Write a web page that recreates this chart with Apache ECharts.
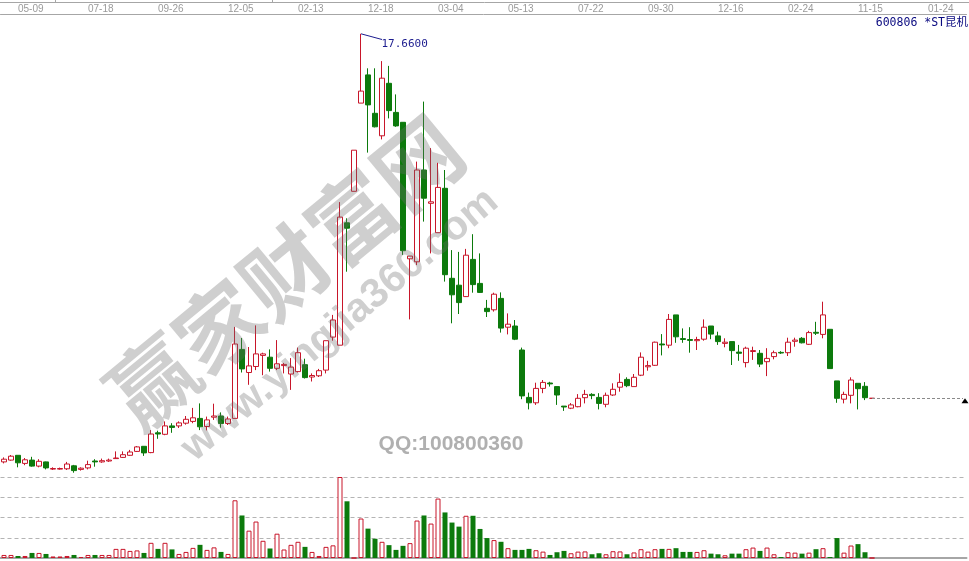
<!DOCTYPE html>
<html><head><meta charset="utf-8">
<script src="https://cdn.jsdelivr.net/npm/echarts@6/dist/echarts.min.js"></script>
<style>html,body{margin:0;padding:0;background:#fff}#c{width:969px;height:561px}</style>
</head><body><div id="c"></div>
<script>
const tickLabels = ['05-09','07-18','09-26','12-05','02-13','12-18','03-04','05-13','07-22','09-30','12-16','02-24','11-15','01-24'];
const stockName = '600806 *ST昆机';
const opens = [3.39,3.45,3.61,3.34,3.45,3.25,3.39,3.15,3.15,3.16,
3.26,3.14,3.19,3.42,3.39,3.42,3.50,3.54,3.61,3.74,
3.91,3.70,4.36,4.31,4.59,4.59,4.68,4.74,4.84,4.57,
4.88,4.92,4.67,4.84,7.14,6.37,6.57,6.94,6.88,6.51,
6.60,6.32,6.40,6.63,6.22,6.26,6.45,7.55,7.28,11.36,
12.41,15.35,16.29,15.01,14.26,16.01,15.04,14.71,10.16,10.06,
13.12,12.01,11.03,12.51,9.51,9.28,8.90,10.14,9.34,8.51,
8.46,8.84,7.88,7.92,7.12,5.54,5.36,5.84,6.02,5.90,
5.25,5.18,5.23,5.53,5.64,5.54,5.31,5.62,5.88,6.14,
5.90,6.28,6.56,6.61,7.32,7.28,8.29,7.50,7.47,7.43,
7.48,7.92,7.59,7.34,7.40,7.05,6.70,7.07,7.01,6.73,
6.90,7.04,7.03,7.41,7.51,7.31,7.71,7.64,7.81,6.09,
5.48,5.61,6.01,5.91,5.51];
const closes = [3.48,3.58,3.36,3.46,3.25,3.41,3.19,3.17,3.17,3.32,
3.10,3.18,3.30,3.39,3.43,3.45,3.52,3.63,3.72,3.89,
3.69,4.32,4.32,4.59,4.54,4.69,4.81,4.86,4.56,4.79,
4.92,4.67,4.82,7.32,6.49,6.59,6.99,6.99,6.51,6.66,
6.64,6.55,7.03,6.20,6.27,6.43,7.43,8.12,11.55,11.18,
13.78,15.75,15.29,14.56,16.18,15.10,14.59,10.43,10.25,13.12,
12.18,12.06,12.54,9.63,8.96,8.70,10.28,9.30,9.04,8.40,
8.98,7.85,7.98,7.48,5.59,5.36,5.84,6.04,5.99,5.62,
5.22,5.29,5.51,5.64,5.60,5.34,5.61,5.81,6.04,5.93,
6.21,6.88,6.60,7.38,7.29,8.14,7.56,7.47,7.44,7.47,
7.88,7.65,7.40,7.38,7.10,7.01,7.18,7.10,6.65,6.84,
7.03,7.02,7.38,7.45,7.36,7.70,7.68,8.29,6.50,5.51,
5.64,6.12,5.83,5.53,5.51];
const lows = [3.34,3.43,3.21,3.28,3.23,3.21,3.14,3.12,3.13,3.12,
3.03,3.10,3.14,3.23,3.36,3.39,3.50,3.52,3.59,3.72,
3.59,3.68,4.16,4.28,4.36,4.52,4.63,4.68,4.45,4.44,
4.79,4.53,4.62,4.84,6.37,5.96,6.45,6.28,6.40,6.45,
6.34,5.79,6.37,6.17,6.07,6.22,6.34,7.43,7.28,9.73,
12.41,15.35,13.70,14.54,14.14,14.84,14.56,10.29,8.14,9.95,
11.40,10.34,11.03,9.40,8.01,8.32,8.89,9.03,9.02,8.22,
8.40,7.70,7.64,7.45,5.48,5.14,5.29,5.68,5.90,5.29,
5.09,5.15,5.21,5.34,5.48,5.14,5.21,5.59,5.73,5.88,
5.90,6.25,6.43,6.59,6.94,7.18,7.36,7.36,7.03,7.12,
7.43,7.48,7.29,7.21,6.62,6.76,6.54,6.79,6.55,6.25,
6.81,6.99,6.92,7.23,7.34,7.29,7.62,7.51,6.50,5.36,
5.34,5.34,5.14,5.45,5.51];
const highs = [3.54,3.62,3.61,3.52,3.56,3.48,3.40,3.21,3.20,3.39,
3.29,3.21,3.43,3.48,3.50,3.50,3.74,3.74,3.79,3.92,
3.92,4.45,4.43,4.74,4.68,4.74,4.92,5.19,5.34,4.90,
5.33,5.04,4.90,7.89,7.52,7.22,7.94,7.03,7.14,7.45,
6.69,6.85,7.20,6.83,6.34,6.49,7.43,8.29,12.05,11.51,
13.78,17.66,16.51,16.51,16.75,16.59,15.64,14.71,10.25,13.40,
15.40,13.85,13.36,13.12,10.45,10.39,10.49,10.98,10.34,8.79,
9.03,9.04,8.34,8.12,7.20,5.70,6.03,6.12,6.06,5.90,
5.25,5.35,5.65,5.79,5.68,5.68,5.70,6.01,6.34,6.21,
6.32,7.04,6.76,7.40,7.65,8.32,8.29,7.84,7.88,7.56,
8.14,7.92,7.73,7.51,7.40,7.29,7.23,7.23,7.12,7.18,
7.10,7.08,7.53,7.53,7.55,7.76,8.06,8.73,7.81,6.09,
5.73,6.21,6.01,6.05,5.51];
const volumes = [3,3,2,2,5,5,4,1.5,1.5,2,
3,1,3,3,3,3,9,9,7,7.5,
5,15,9,15,8.5,4,6,10,13,8,
10.5,6,4,57,42,27,36,17,9.4,24,
8.4,13,16,11,6,2,11,12.5,80,56,
0,39,29,19,16,12.7,8,12,14.7,37,
42,34,58.7,45,35,31,41.7,41.7,28.7,19.7,
17.7,16,9.7,8,8,9,7.7,6.3,3,5.7,
7,4.7,6.3,6.5,3.7,4.7,3.7,6.7,6.5,3.7,
5.5,8.7,6.3,8.7,9,9,9.7,6,6,6,
7.7,4.3,3.7,2.7,4.3,4.3,8.7,10.3,7,10.3,
3.7,1,5.7,5.3,4.3,5.3,8.7,9.7,1,19.7,
5.3,12.3,13.7,5.7,0];

const slotCount = 138, tickFirst = 2, tickStep = 10;
const categories = Array.from({length: slotCount}, (_, i) => String(i));
function tickText(i) {
  const k = (i - tickFirst) / tickStep;
  return (Number.isInteger(k) && k >= 0 && k < tickLabels.length) ? tickLabels[k] : '';
}
const RED = '#c8162a', GREEN = '#0c7a0c', BLUE = '#1c1c8f';
const candles = opens.map((o, i) => [o, closes[i], lows[i], highs[i]]);
const maxHigh = Math.max(...highs);
const maxIdx = highs.indexOf(maxHigh);
const lastIdx = closes.length - 1;
const lastClose = closes[lastIdx];
const volData = volumes.map((v, i) => ({
  value: v,
  itemStyle: closes[i] >= opens[i]
    ? {color: '#ffffff', borderColor: RED, borderWidth: 1}
    : {color: GREEN, borderColor: GREEN, borderWidth: 0}
}));

const chart = echarts.init(document.getElementById('c'), null, {renderer: 'canvas'});
chart.setOption({
  animation: false,
  backgroundColor: '#ffffff',
  grid: [
    {left: 0.5, width: 966, top: 14.6, height: 459},
    {left: 0.5, width: 966, top: 477, height: 81}
  ],
  xAxis: [
    {type: 'category', gridIndex: 0, data: categories, position: 'top', boundaryGap: true,
     axisLine: {show: true, lineStyle: {color: '#a6a6a6', width: 1}},
     axisTick: {show: false},
     axisLabel: {show: true, color: '#9a9a9a', fontSize: 10, fontFamily: 'Liberation Sans',
       align: 'left', verticalAlign: 'middle', margin: 5.4, hideOverlap: false,
       interval: (idx) => tickText(idx) !== '', formatter: (v, idx) => tickText(idx)},
     splitLine: {show: false}},
    {type: 'category', gridIndex: 1, data: categories, position: 'bottom', boundaryGap: true,
     axisLine: {show: true, lineStyle: {color: '#a6a6a6', width: 2}},
     axisTick: {show: false}, axisLabel: {show: false}, splitLine: {show: false}}
  ],
  yAxis: [
    {type: 'value', gridIndex: 0, min: 3.0, max: 18.3, show: false},
    {type: 'value', gridIndex: 1, min: 0, max: 80, interval: 20,
     axisLine: {show: false}, axisTick: {show: false}, axisLabel: {show: false},
     splitLine: {show: true, lineStyle: {color: '#b4b4b4', type: [4, 3], width: 1}}}
  ],
  series: [
    {type: 'candlestick', xAxisIndex: 0, yAxisIndex: 0, data: candles, barWidth: 5,
     itemStyle: {color: '#ffffff', color0: GREEN, borderColor: RED, borderColor0: GREEN,
       borderColorDoji: RED, borderWidth: 1},
     markLine: {silent: true, symbol: ['none', 'none'], animation: false, label: {show: false},
       data: [
         [{coord: [lastIdx, lastClose], lineStyle: {color: '#8a8a8a', type: [3, 2], width: 1}},
          {coord: [slotCount - 1, lastClose]}],
         [{coord: [maxIdx, maxHigh], lineStyle: {color: BLUE, type: 'solid', width: 1}},
          {coord: [maxIdx + 3, maxHigh - 0.19]}]
       ]},
     markPoint: {silent: true, animation: false,
       data: [
         {coord: [maxIdx + 3, maxHigh - 0.19], symbol: 'circle', symbolSize: 1,
          itemStyle: {color: 'rgba(0,0,0,0)'},
          label: {show: true, position: 'right', distance: 0, offset: [-1, 5],
            formatter: maxHigh.toFixed(4), color: BLUE, fontSize: 11,
            fontFamily: 'DejaVu Sans Mono'}},
         {coord: [slotCount - 1, lastClose], symbol: 'triangle', symbolSize: [7, 5],
          symbolOffset: [2, 2.5], itemStyle: {color: '#000000'}, label: {show: false}}
       ]}
    },
    {type: 'bar', xAxisIndex: 1, yAxisIndex: 1, data: volData, barWidth: 5}
  ],
  graphic: [
    {type: 'line', shape: {x1: 0, y1: 2.5, x2: 969, y2: 2.5}, style: {stroke: '#a6a6a6', lineWidth: 1}, silent: true},
    {type: 'line', shape: {x1: 55.5, y1: 0, x2: 55.5, y2: 2.5}, style: {stroke: '#a6a6a6', lineWidth: 1}, silent: true},
    {type: 'line', shape: {x1: 272.5, y1: 0, x2: 272.5, y2: 2.5}, style: {stroke: '#a6a6a6', lineWidth: 1}, silent: true},
    {type: 'text', x: 968, y: 23.5, silent: true,
     style: {text: stockName, fill: '#0a0a80', font: '11.5px "DejaVu Sans Mono", "Noto Sans CJK SC"', align: 'right', verticalAlign: 'middle'}},
    {type: 'text', x: 451, y: 444, silent: true, z: 50,
     style: {text: 'QQ:100800360', fill: '#b0b0b0', font: 'bold 21px "Liberation Sans"', align: 'center', verticalAlign: 'middle'}},
    {type: 'text', x: 285, y: 272, rotation: 0.69, silent: true, z: 60,
     style: {text: '赢家财富网', fill: 'rgba(110,110,110,0.33)', font: 'bold 86px "Noto Sans CJK SC"', align: 'center', verticalAlign: 'middle'}},
    {type: 'text', x: 340, y: 325, rotation: 0.7, silent: true, z: 60,
     style: {text: 'www.yingjia360.com', fill: 'rgba(110,110,110,0.33)', font: 'bold 41px "Liberation Sans"', align: 'center', verticalAlign: 'middle'}}
  ]
});
</script>
</body></html>
